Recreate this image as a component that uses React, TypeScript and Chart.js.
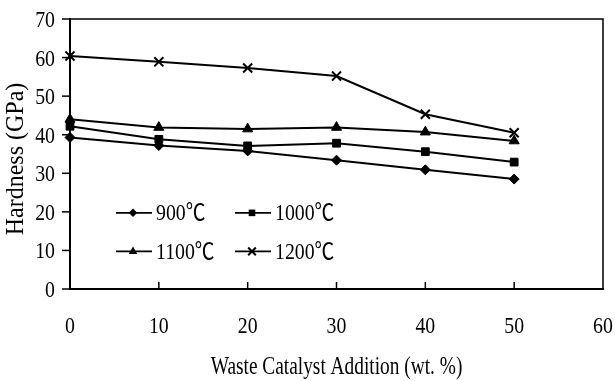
import React, { useEffect, useRef } from "react";
import { Chart, registerables } from "chart.js";

Chart.register(...registerables);

const additions = [0, 10, 20, 30, 40, 50];
const hardness900 = [39.3, 37.2, 35.8, 33.4, 30.9, 28.5];
const hardness1000 = [42.2, 38.8, 37.1, 37.8, 35.6, 32.9];
const hardness1100 = [44.0, 41.9, 41.5, 41.9, 40.7, 38.4];
const hardness1200 = [60.4, 58.9, 57.3, 55.2, 45.3, 40.5];
const seriesLabels = ["900℃", "1000℃", "1100℃", "1200℃"];
const xTickValues = [0, 10, 20, 30, 40, 50, 60];
const yTickValues = [0, 10, 20, 30, 40, 50, 60, 70];
const xTitle = "Waste Catalyst Addition (wt. %)";
const yTitle = "Hardness (GPa)";

const FONT = "'Liberation Serif', 'Times New Roman', 'Noto Sans CJK SC', serif";

function txt(
  ctx: CanvasRenderingContext2D,
  s: string,
  x: number,
  y: number,
  size: number,
  sx: number,
  sy: number,
  align: CanvasTextAlign,
  baseline: CanvasTextBaseline,
  rot = 0
) {
  ctx.save();
  ctx.translate(x, y);
  if (rot) ctx.rotate(rot);
  ctx.scale(sx, sy);
  ctx.font = `${size}px ${FONT}`;
  ctx.fillStyle = "#000";
  ctx.textAlign = align;
  ctx.textBaseline = baseline;
  ctx.fillText(s, 0, 0);
  ctx.restore();
}

function drawMarker(ctx: CanvasRenderingContext2D, style: string, x: number, y: number, r: number) {
  ctx.beginPath();
  if (style === "rectRot") {
    ctx.moveTo(x - r, y);
    ctx.lineTo(x, y - r);
    ctx.lineTo(x + r, y);
    ctx.lineTo(x, y + r);
    ctx.closePath();
    ctx.fill();
  } else if (style === "rect") {
    const s = r * Math.SQRT1_2;
    ctx.rect(x - s, y - s, 2 * s, 2 * s);
    ctx.fill();
  } else if (style === "triangle") {
    ctx.moveTo(x, y - r);
    ctx.lineTo(x + r * 0.866, y + r * 0.5);
    ctx.lineTo(x - r * 0.866, y + r * 0.5);
    ctx.closePath();
    ctx.fill();
  } else {
    const s = r * Math.SQRT1_2;
    ctx.moveTo(x - s, y - s);
    ctx.lineTo(x + s, y + s);
    ctx.moveTo(x + s, y - s);
    ctx.lineTo(x - s, y + s);
    ctx.stroke();
  }
}

const decorPlugin = {
  id: "decor",
  afterDraw(chart: any) {
    const { ctx, chartArea: a, scales } = chart;
    const xs = scales.x;
    const ys = scales.y;
    ctx.save();
    ctx.strokeStyle = "#000";
    ctx.lineWidth = 1.5;
    ctx.beginPath();
    ctx.moveTo(a.left, a.top);
    ctx.lineTo(a.right, a.top);
    ctx.lineTo(a.right, a.bottom);
    ctx.stroke();
    for (const v of xTickValues) {
      if (v === 0 || v === 60) continue;
      const px = xs.getPixelForValue(v);
      ctx.beginPath();
      ctx.moveTo(px, a.bottom);
      ctx.lineTo(px, a.bottom - 7);
      ctx.stroke();
    }
    for (const v of yTickValues) {
      const py = ys.getPixelForValue(v);
      ctx.beginPath();
      ctx.moveTo(a.left, py);
      ctx.lineTo(a.left - 8, py);
      ctx.stroke();
    }
    ctx.restore();

    for (const v of yTickValues) {
      txt(ctx, String(v), a.left - 15, ys.getPixelForValue(v) + 8, 22, 0.9, 1.05, "right", "alphabetic");
    }
    for (const v of xTickValues) {
      txt(ctx, String(v), xs.getPixelForValue(v), a.bottom + 44, 22, 0.9, 1.05, "center", "alphabetic");
    }
    txt(ctx, xTitle, (a.left + a.right) / 2, 374, 22, 0.88, 1.1, "center", "alphabetic");
    txt(ctx, yTitle, 16, (a.top + a.bottom) / 2 + 5, 24, 1.0, 1.08, "center", "middle", -Math.PI / 2);

    const rows = [ys.getPixelForValue(20) + 1, ys.getPixelForValue(10) + 1];
    const cols = [a.left + 46, a.left + 165];
    ctx.save();
    chart.data.datasets.forEach((ds: any, i: number) => {
      const x0 = cols[i % 2];
      const y = rows[Math.floor(i / 2)];
      ctx.strokeStyle = "#000";
      ctx.fillStyle = "#000";
      ctx.lineWidth = 1.8;
      ctx.beginPath();
      ctx.moveTo(x0, y);
      ctx.lineTo(x0 + 36, y);
      ctx.stroke();
      ctx.lineWidth = 2;
      drawMarker(ctx, ds.pointStyle, x0 + 17, y, ds.pointRadius * 0.85);
      txt(ctx, ds.label, x0 + 40, y + 7.5, 22, 0.9, 1.05, "left", "alphabetic");
    });
    ctx.restore();
  },
};

export default function App() {
  const ref = useRef<HTMLCanvasElement>(null);
  useEffect(() => {
    const mk = (label: string, values: number[], style: string, radius: number) => ({
      label,
      data: additions.map((x, i) => ({ x, y: values[i] })),
      borderColor: "#000",
      backgroundColor: "#000",
      borderWidth: 2,
      pointStyle: style,
      pointRadius: radius,
      pointBorderWidth: style === "crossRot" ? 2 : 1,
      pointBackgroundColor: "#000",
      pointBorderColor: "#000",
      tension: 0,
      fill: false,
      clip: false,
    });
    const chart = new Chart(ref.current!, {
      type: "line",
      data: {
        datasets: [
          mk(seriesLabels[0], hardness900, "rectRot", 5),
          mk(seriesLabels[1], hardness1000, "rect", 5.5),
          mk(seriesLabels[2], hardness1100, "triangle", 5.8),
          mk(seriesLabels[3], hardness1200, "crossRot", 6.4),
        ],
      },
      options: {
        animation: false,
        responsive: false,
        maintainAspectRatio: false,
        layout: { padding: { left: 0, right: 12, top: 19, bottom: 0 } },
        plugins: { legend: { display: false }, tooltip: { enabled: false } },
        scales: {
          x: {
            type: "linear",
            min: 0,
            max: 60,
            afterFit: (s: any) => {
              s.height = 92;
              s.paddingLeft = 0;
              s.paddingRight = 0;
            },
            ticks: { stepSize: 10, display: false },
            grid: { display: false, drawTicks: false },
            border: { display: true, color: "#000", width: 2 },
            title: { display: false },
          },
          y: {
            min: 0,
            max: 70,
            afterFit: (s: any) => {
              s.width = 70;
              s.paddingTop = 0;
              s.paddingBottom = 0;
            },
            ticks: { stepSize: 10, display: false },
            grid: { display: false, drawTicks: false },
            border: { display: true, color: "#000", width: 2 },
            title: { display: false },
          },
        },
      },
      plugins: [decorPlugin],
    } as any);
    return () => chart.destroy();
  }, []);
  return (
    <div style={{ position: "fixed", left: 0, top: 0, width: 615, height: 381, background: "#fff" }}>
      <canvas ref={ref} width={615} height={381} style={{ width: 615, height: 381, display: "block" }} />
    </div>
  );
}
